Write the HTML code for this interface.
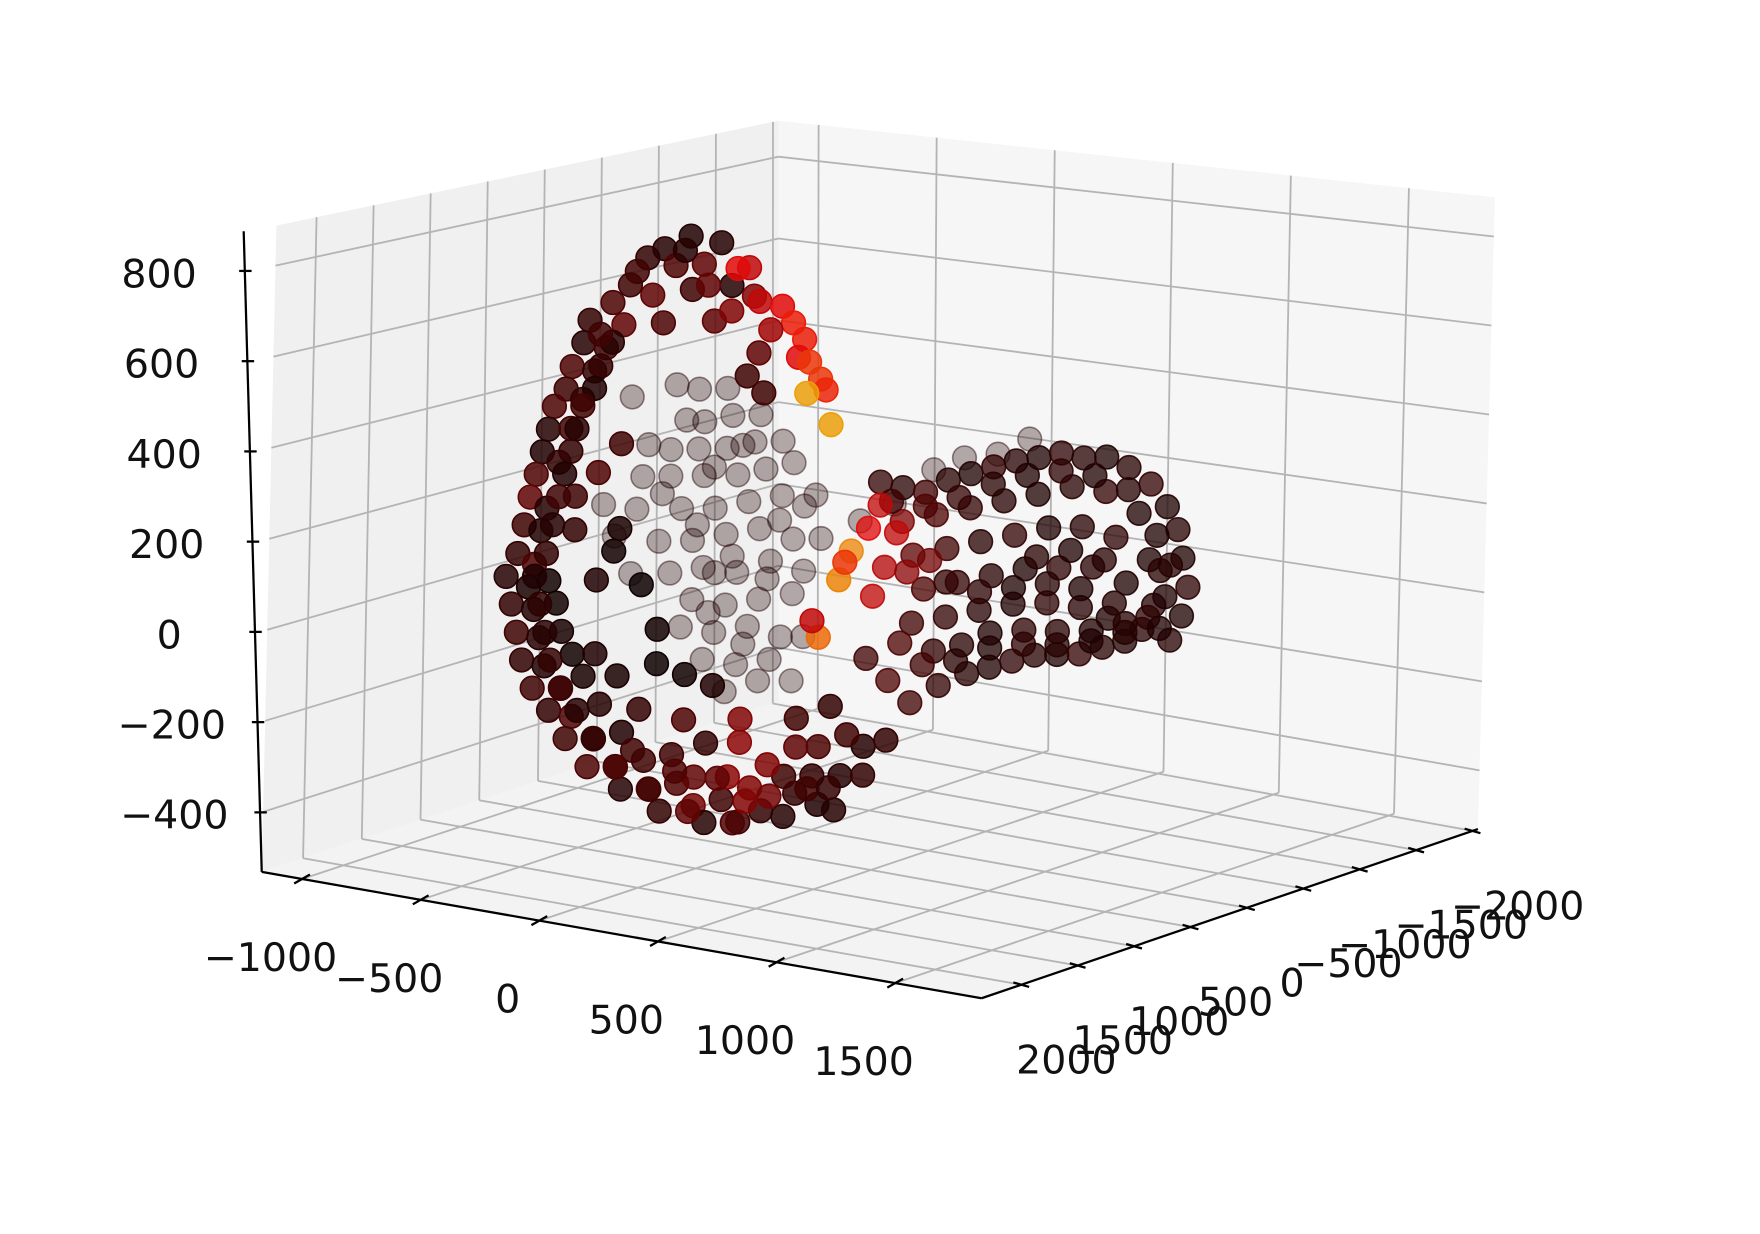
<!DOCTYPE html>
<html><head><meta charset="utf-8"><style>
html,body{margin:0;padding:0;background:#fff;}
svg{display:block;}
text{font-family:"DejaVu Sans","Liberation Sans",sans-serif;font-size:35px;fill:#111;}
</style></head>
<body>
<svg id="chart" width="1760" height="1234" viewBox="0 0 1560 1094" preserveAspectRatio="none" xmlns="http://www.w3.org/2000/svg">
<g id="panes"></g>
<g id="grid"></g>
<g id="axes"></g>
<g id="points"></g>
</svg>
<script>
const xTicks=[-1000,-500,0,500,1000,1500];
const yTicks=[-2000,-1500,-1000,-500,0,500,1000,1500,2000];
const zTicks=[-400,-200,0,200,400,600,800];
const XMIN=-1170,XMAX=1864,YMIN=-2048,YMAX=2352,ZMIN=-532,ZMAX=888;
// data: front ring (y=1200)
const ringX=[-157,-86,23,152,-38,81,271,-228,-300,-133,33,199,294,-395,-252,-86,128,-419,-324,-466,-371,-490,-538,-419,-561,-466,-585,-609,-514,-633,-561,-656,-585,-680,-609,-728,-633,-547,-704,-609,-514,-680,-585,-490,-656,-561,-442,-609,-490,-395,-538,-442,-324,-466,-347,-228,-371,-252,-133,-228,-110,9,-62,81,199,128,271,366,461,509,604,675,318,461,580,699,794,794,889,604,723,509,390,223,81,-15,128,271,-252,-347,-157,-276,-347,-442,-442,-347,-252,-252,-86,-86,33,152,-157,33,271,509,651,223,318,413,461,509,485,532,580,604,523,628,366,318,271,342,594,566,675,699,
-299,-346,-370,-418,-441,-465,-489,-513,-536,-560,-608,-584,-560,-536,-489,-418,-346,-251,-108,58,248,400,300,180,560,650,0,-180,-200,0,100,-350,200];
const ringZ=[823,848,883,877,814,825,830,758,714,742,766,786,769,668,668,684,703,616,612,560,557,508,466,490,413,422,361,309,343,256,237,192,185,126,108,71,55,76,11,7,29,-50,-54,-32,-110,-115,-79,-169,-158,-124,-212,-217,-180,-269,-258,-234,-323,-312,-288,-360,-349,-326,-394,-369,-345,-402,-388,-355,-359,-304,-320,-326,-309,-271,-260,-249,-240,-177,-156,-194,-158,-203,-252,-293,-306,-265,-227,-213,-111,-70,99,164,94,198,273,333,404,216,6,-70,-84,-98,-177,-184,-162,-140,-102,825,759,755,722,689,648,641,607,585,572,511,700,646,592,560,44,78,176,216,
626,570,518,476,423,371,319,266,202,136,81,21,-40,-100,-159,-202,-259,-313,-350,-384,-392,-320,-340,-300,-290,-280,-300,-270,790,850,780,640,730];
const ringC=[.08,.06,.05,.06,.12,.15,.3,.1,.12,.15,.1,.06,.2,.08,.15,.12,.15,.06,.1,.12,.08,.1,.12,.08,.06,.1,.05,.12,.08,.15,.06,.1,.05,.08,.12,.06,.04,.03,.08,.05,.03,.1,.06,.04,.08,.05,.03,.1,.06,.04,.08,.12,.06,.1,.08,.05,.12,.08,.1,.06,.15,.12,.08,.18,.1,.06,.1,.08,.06,.08,.05,.06,.2,.1,.08,.06,.08,.06,.08,.12,.1,.15,.2,.22,.15,.1,.08,.22,.04,.05,.02,.03,.05,.08,.1,.12,.1,.04,.03,.02,.03,.05,.08,.12,.2,.1,.08,.35,.3,.35,.4,.4,.35,.45,.45,.42,.65,.65,.25,.15,.1,.1,.55,.3,.6,.45,
.06,.08,.05,.1,.06,.08,.05,.1,.06,.08,.05,.07,.06,.08,.1,.06,.08,.12,.1,.15,.12,.18,.2,.15,.1,.08,.12,.1,.1,.06,.15,.1,.2];
// inner back cloud (y=-500)
const innerX=[-842,-747,-627,-1032,-723,-604,-485,-865,-747,-627,-509,-390,-984,-865,-723,-580,-461,-342,-1150,-1008,-818,-675,-532,-390,-295,-1103,-913,-770,-627,-485,-342,-223,-1032,-865,-723,-580,-437,-295,-770,-627,-485,-342,-818,-675,-532,-390,-723,-580,-437,-627,-485,-342,-57,86,252,381,523,656,-247,-960,-295,-675,
-800,-680,-560,-900,-750,-600,-450,-700,-550,-400];
const innerZ=[379,376,387,336,302,326,337,226,237,248,272,283,153,164,177,190,213,237,74,75,92,105,132,157,141,4,8,22,48,73,61,72,-78,-62,-37,-36,2,-9,-116,-116,-90,-65,-184,-184,-157,-169,-251,-250,-225,-317,-279,-266,126,176,267,304,323,367,170,230,-160,-45,
300,200,260,120,60,0,-40,-140,-200,100];
// tube (y=500)
const tubeX=[508,603,699,794,889,984,1079,1174,1269,1364,1460,1555,1650,1721,1768,1792,1816,1792,1745,651,770,889,984,1079,1174,1269,1364,1460,1555,1626,556,461,603,746,889,1031,1174,1317,1460,1602,651,794,936,1079,1222,1364,1507,1650,699,841,984,1127,1269,1412,1555,1673,651,794,936,1079,1222,1364,1483,1555,746,865,984,1127,1269,1412,1697,
556,699,841,984,1127,1269,1412,1555,1680,1740,1720,1650,1507,1364,1222,1079,936,794,700,841,984,1127,1269,1412,1555,1700,603,1460,1317,1174,
508,580,461,532,627,484,390,722];
const tubeZ=[329,324,321,355,376,398,418,432,449,445,454,438,409,365,319,259,198,134,78,-148,-100,-64,-42,-21,0,9,18,40,61,92,-107,-66,249,275,301,327,352,379,379,342,178,204,230,255,282,295,283,245,107,133,159,185,198,211,187,148,28,53,79,104,118,119,105,99,-26,-3,33,51,59,72,225,
290,290,320,360,390,410,410,390,300,240,170,120,140,160,160,140,120,130,-60,-40,0,20,30,50,80,100,-20,230,240,215,
278,222,223,142,139,74,167,172];
const tubeC=[.08,.06,.1,.06,.05,.08,.06,.05,.07,.06,.05,.06,.08,.05,.06,.05,.07,.05,.06,.1,.08,.06,.05,.07,.06,.05,.08,.06,.05,.06,.12,.1,.2,.12,.08,.06,.05,.06,.08,.05,.15,.1,.06,.08,.05,.06,.07,.05,.12,.08,.06,.05,.07,.06,.05,.06,.1,.08,.06,.05,.07,.06,.05,.06,.08,.06,.05,.07,.06,.05,.06,
.1,.12,.08,.06,.05,.07,.05,.06,.05,.06,.05,.07,.06,.05,.06,.05,.07,.08,.1,.06,.05,.07,.06,.05,.06,.05,.12,.06,.05,.06,
.3,.3,.35,.28,.22,.3,.6,.18];
const RING_Y=1200, INNER_Y=-500, TUBE_Y=500, INNER_C=0.05;

const NS="http://www.w3.org/2000/svg";
const FL=[[232,773],[870,885],[1310,735],[690,622]];
const OFF=[[13,-573],[15,-600],[15,-560],[0,-515]];
function bl(c,u,v,i){return c[0][i]*(1-u)*(1-v)+c[1][i]*u*(1-v)+c[2][i]*u*v+c[3][i]*(1-u)*v;}
function P(x,y,z){const u=(x-XMIN)/(XMAX-XMIN),v=(YMAX-y)/(YMAX-YMIN),w=(z-ZMIN)/(ZMAX-ZMIN);
 return [bl(FL,u,v,0)+w*bl(OFF,u,v,0), bl(FL,u,v,1)+w*bl(OFF,u,v,1)];}
function mk(tag,attrs,parent){const e=document.createElementNS(NS,tag);for(const k in attrs)e.setAttribute(k,attrs[k]);parent.appendChild(e);return e;}
function pts(a){return a.map(p=>p.join(',')).join(' ');}
const panes=document.getElementById('panes'),grid=document.getElementById('grid'),axes=document.getElementById('axes'),gp=document.getElementById('points');
let e;
e=mk('polygon',{points:pts([P(XMIN,YMAX,ZMIN),P(XMIN,YMIN,ZMIN),P(XMIN,YMIN,ZMAX),P(XMIN,YMAX,ZMAX)]),fill:'#f0f0f0'},panes);


e=mk('polygon',{points:pts([P(XMIN,YMIN,ZMIN),P(XMAX,YMIN,ZMIN),P(XMAX,YMIN,ZMAX),P(XMIN,YMIN,ZMAX)]),fill:'#f6f6f6'},panes);


e=mk('polygon',{points:pts([P(XMIN,YMAX,ZMIN),P(XMAX,YMAX,ZMIN),P(XMAX,YMIN,ZMIN),P(XMIN,YMIN,ZMIN)]),fill:'#f3f3f3'},panes);


function gl(a,b){const l=mk('line',{x1:a[0],y1:a[1],x2:b[0],y2:b[1],stroke:'#b4b4b4','stroke-width':1.6},grid);
 
 }
zTicks.forEach(z=>{gl(P(XMIN,YMAX,z),P(XMIN,YMIN,z));gl(P(XMIN,YMIN,z),P(XMAX,YMIN,z));});
yTicks.forEach(y=>{gl(P(XMIN,y,ZMIN),P(XMIN,y,ZMAX));gl(P(XMIN,y,ZMIN),P(XMAX,y,ZMIN));});
xTicks.forEach(x=>{gl(P(x,YMIN,ZMIN),P(x,YMIN,ZMAX));gl(P(x,YMAX,ZMIN),P(x,YMIN,ZMIN));});
function al(a,b,name){const l=mk('line',{x1:a[0],y1:a[1],x2:b[0],y2:b[1],stroke:'#000','stroke-width':2},axes);
 
 }
function lab(t,x,y,name){const s=mk('text',{x:x,y:y,'text-anchor':'middle','dominant-baseline':'central'},axes);s.textContent=t;
 
 }
const fmt=n=>n<0?'\u2212'+(-n):''+n;
al(P(XMIN,YMAX,ZMIN),P(XMAX,YMAX,ZMIN),'x-axis-line');
al(P(XMAX,YMAX,ZMIN),P(XMAX,YMIN,ZMIN),'y-axis-line');
const L0=P(XMIN,YMAX,ZMIN);
const zAx=z=>{const w=(z-ZMIN)/(ZMAX-ZMIN);return [L0[0]-16*w,L0[1]-568*w];};
al(zAx(ZMIN),zAx(ZMAX),'z-axis-line');
zTicks.forEach(z=>{const p=zAx(z);al([p[0]-5,p[1]],[p[0]+6,p[1]],'z-tick');lab(fmt(z),p[0]-76,p[1]+3,'z-tick-label');});
xTicks.forEach(x=>{const p=P(x,YMAX,ZMIN);al([p[0]-7,p[1]+4],[p[0]+7,p[1]-4],'x-tick');lab(fmt(x),p[0]-28,p[1]+70,'x-tick-label');});
yTicks.forEach(y=>{const p=P(XMAX,y,ZMIN);al([p[0]-7,p[1]-2],[p[0]+7,p[1]+2],'y-tick');lab(fmt(y),p[0]+40,p[1]+67,'y-tick-label');});
function hot(c){const r=Math.min(1,c/0.365)*0.92,g=Math.max(0,Math.min(1,(c-0.365)/0.381)),b=Math.max(0,Math.min(1,(c-0.746)/0.254));
 return 'rgb('+Math.round(r*255)+','+Math.round(g*200+25*r*0.4)+','+Math.round(b*255+10*r)+')';}
const all=[];
ringX.forEach((x,i)=>all.push([x,RING_Y,ringZ[i],ringC[i]]));
innerX.forEach((x,i)=>all.push([x,INNER_Y,innerZ[i],INNER_C]));
tubeX.forEach((x,i)=>all.push([x,TUBE_Y,tubeZ[i],tubeC[i]]));
all.sort((a,b)=>a[1]-b[1]);
all.forEach(d=>{const p=P(d[0],d[1],d[2]);
 const a=Math.max(0.3,Math.min(0.85,0.32+0.44*(d[1]-INNER_Y)/1000));
 const col=hot(d[3]);
 const c=mk('circle',{cx:p[0].toFixed(1),cy:p[1].toFixed(1),r:10.5,fill:col,stroke:col,'stroke-width':1.4,'fill-opacity':a,'stroke-opacity':Math.min(1,a+0.15)},gp);
 
 
});
</script>
</body></html>
